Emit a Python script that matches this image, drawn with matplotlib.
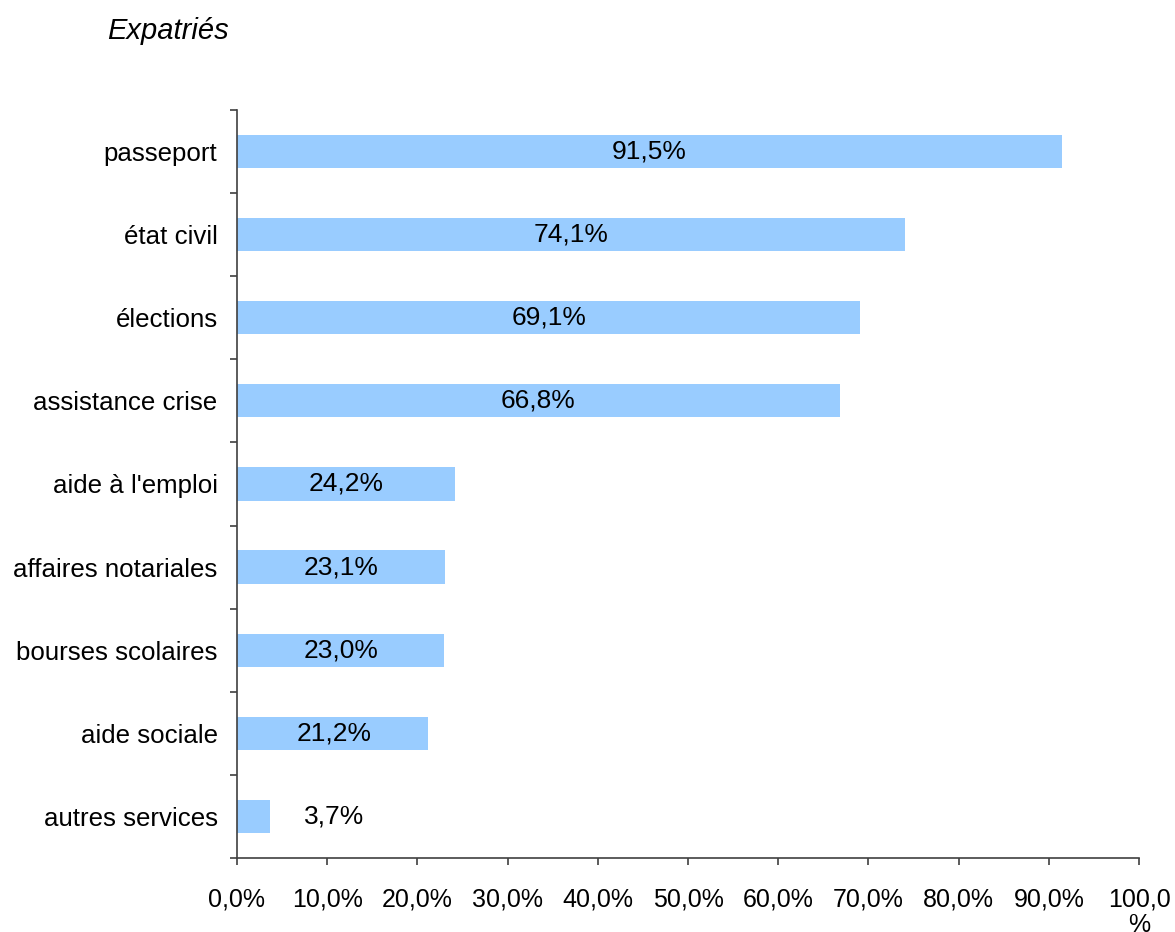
import matplotlib.pyplot as plt
import numpy as np
from matplotlib.ticker import FixedLocator

plt.rcParams['font.family'] = ['Liberation Sans', 'DejaVu Sans']

services = ['passeport', 'état civil', 'élections', 'assistance crise',
            "aide à l'emploi", 'affaires notariales', 'bourses scolaires',
            'aide sociale', 'autres services']
pourcentages = [91.5, 74.1, 69.1, 66.8, 24.2, 23.1, 23.0, 21.2, 3.7]
xticks = [0, 10, 20, 30, 40, 50, 60, 70, 80, 90, 100]
xtick_labels = ['0,0%', '10,0%', '20,0%', '30,0%', '40,0%', '50,0%',
                '60,0%', '70,0%', '80,0%', '90,0%', '100,0\n%']

fig = plt.figure(figsize=(11.75, 9.32), dpi=100)
ax = fig.add_axes([0.2017, 0.0794, 0.7677, 0.8026])

y = np.arange(len(services))
ax.barh(y, pourcentages, height=0.4, color='#99CCFF')

for yi, v in zip(y, pourcentages):
    label = f'{v:.1f}%'.replace('.', ',')
    # short bars get their label pushed out past the bar end
    xpos = max(v / 2, 10.8)
    ax.text(xpos, yi, label, ha='center', va='center', fontsize=19, color='black')

ax.set_xlim(0, 100)
ax.set_ylim(len(services) - 0.5, -0.5)

ax.set_xticks(xticks)
ax.set_xticklabels(xtick_labels, fontsize=18, multialignment='center', linespacing=1.1)
ax.set_yticks(y)
ax.set_yticklabels(services, fontsize=18.6)
ax.yaxis.set_minor_locator(FixedLocator(np.arange(len(services) + 1) - 0.5))

ax.tick_params(axis='y', which='major', length=0, pad=14)
ax.tick_params(axis='y', which='minor', length=5, width=1.2, color='#404040', direction='out')
ax.tick_params(axis='x', which='major', length=5, width=1.2, color='#404040', pad=16)

for side in ['top', 'right']:
    ax.spines[side].set_visible(False)
for side in ['left', 'bottom']:
    ax.spines[side].set_color('#404040')
    ax.spines[side].set_linewidth(1.2)

fig.text(0.091, 0.967, 'Expatriés', fontsize=21, style='italic', ha='left', va='center')

fig.savefig('out.png', dpi=100)
